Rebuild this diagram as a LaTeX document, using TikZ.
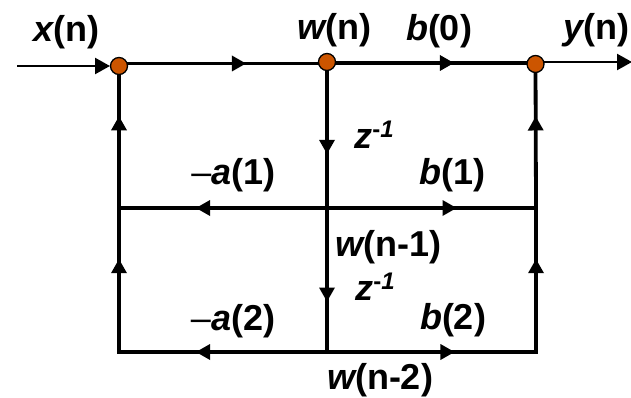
\documentclass[tikz,border=0pt]{standalone}
\usepackage{fontspec}
\setmainfont{Liberation Sans}
\usetikzlibrary{arrows.meta,decorations.markings}
\definecolor{dotfill}{HTML}{CC5500}
\tikzset{
  junction/.style={circle,draw=black,line width=1.3pt,fill=dotfill,minimum size=17pt,inner sep=0pt},
  joint/.style={inner sep=0pt,minimum size=0pt},
  lbl/.style={font=\fontsize{36}{38}\selectfont\bfseries,inner sep=0pt,anchor=base},
  wire/.style={line width=3.8pt,line cap=rect},
  thinwire/.style={line width=2.4pt},
  tip/.style={-{Triangle[length=15pt,width=16pt]}},
  markat/.style={postaction={decorate,decoration={markings,mark=at position #1 with {\arrow[line width=0pt]{Triangle[length=14pt,width=16pt]}}}}}
}
\newcommand{\bi}[1]{{\itshape #1}}
\newcommand{\zinv}{\bi{z}\raisebox{11pt}{\fontsize{24}{24}\selectfont -\bi{1}}}
\begin{document}
\begin{tikzpicture}[x=1pt,y=-1pt]
\useasboundingbox (0,0) rectangle (631,398);
\coordinate (in) at (17,66);
\coordinate (inend) at (110,66);
\coordinate (aup) at (119,63.5);
\coordinate (wl) at (327,63.5);
\coordinate (wr) at (327,63);
\coordinate (yl) at (535,63);
\coordinate (ystart) at (535,62);
\coordinate (out) at (632,62);
\node[joint] (l1) at (119,208) {};
\node[joint] (m1) at (327,208) {};
\node[joint] (r1) at (536,208) {};
\node[joint] (l2) at (119,352) {};
\node[joint] (m2) at (327,352) {};
\node[joint] (r2) at (536,352) {};
\coordinate (a) at (119,66);
\coordinate (w) at (327,62);
\coordinate (y) at (535.5,64);
\draw[wire,markat=0.61] (aup) -- (wl);
\draw[wire,markat=0.61] (wr) -- (yl);
\draw[wire,markat=0.63] (w) -- (m1);
\draw[wire,markat=0.65] (m1) -- (m2);
\draw[wire,markat=0.645] (l1) -- (a);
\draw[wire,markat=0.635] (r1) -- (y);
\draw[wire,markat=0.645] (l2) -- (l1);
\draw[wire,markat=0.645] (r2) -- (r1);
\draw[wire,markat=0.63] (m1) -- (l1);
\draw[wire,markat=0.62] (m1) -- (r1);
\draw[wire,markat=0.63] (m2) -- (l2);
\draw[wire,markat=0.61] (m2) -- (r2);
\draw[thinwire,tip] (in) -- (inend);
\draw[thinwire,tip] (ystart) -- (out);
\node[junction] (A) at (a) {};
\node[junction] (W) at (w) {};
\node[junction] (Y) at (y) {};
\node[lbl] (tx) at (66,42) {\bi{x}(n)};
\node[lbl] (tw) at (334.5,40) {\bi{w}(n)};
\node[lbl] (tb0) at (439,41) {\bi{b}(0)};
\node[lbl] (ty) at (596,40) {\bi{y}(n)};
\node[lbl] (tz1) at (374,149) {\zinv};
\node[lbl] (ta1) at (233.5,185) {{\mdseries –}\bi{a}(1)};
\node[lbl] (tb1) at (452.5,185) {\bi{b}(1)};
\node[lbl] (tw1) at (388.5,256) {\bi{w}(n-1)};
\node[lbl] (tz2) at (375,300) {\zinv};
\node[lbl] (ta2) at (233,330) {{\mdseries –}\bi{a}(2)};
\node[lbl] (tb2) at (453,329) {\bi{b}(2)};
\node[lbl] (tw2) at (380,389.5) {\bi{w}(n-2)};
\end{tikzpicture}
\end{document}
